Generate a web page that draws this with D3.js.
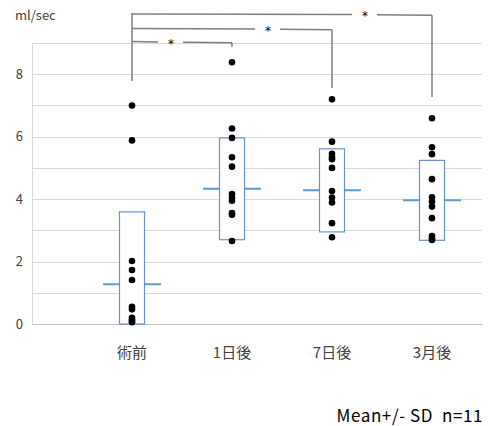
<!DOCTYPE html>
<html><head><meta charset="utf-8">
<script src="https://cdn.jsdelivr.net/npm/d3@7"></script>
<style>body{margin:0;background:#fff}svg{display:block}</style>
</head><body>
<script>
const categories = ["術前", "1日後", "7日後", "3月後"];
const means = [1.27, 4.33, 4.28, 3.96];
const sds = [2.32, 1.63, 1.33, 1.28];
const points = [
  [7.0, 5.88, 2.02, 1.73, 1.41, 0.55, 0.47, 0.2, 0.15, 0.1, 0.06],
  [8.38, 6.26, 5.96, 5.34, 5.04, 4.16, 4.05, 3.95, 3.55, 3.5, 2.66],
  [7.2, 5.84, 5.45, 5.35, 5.28, 5.0, 4.26, 4.05, 3.89, 3.23, 2.78],
  [6.59, 5.66, 5.44, 4.64, 4.06, 3.92, 3.76, 3.39, 2.82, 2.74, 2.69]
];
const yTicks = [0, 2, 4, 6, 8];
const gridValues = [1, 2, 3, 4, 5, 6, 7, 8, 9];
const comparisons = [["術前", "1日後"], ["術前", "7日後"], ["術前", "3月後"]];
const yUnit = "ml/sec";
const footnote = "Mean+/- SD  n=11";

const W = 488, H = 426;
const font = "'Noto Sans CJK JP', 'Noto Sans', sans-serif";
const svg = d3.select("body").append("svg").attr("width", W).attr("height", H);

const x = d3.scalePoint().domain(categories).range([132, 432]);
const y = d3.scaleLinear().domain([0, 9]).range([324, 43]);
const cx = c => x(c);
const plotL = 32, plotR = 482;

// gridlines
svg.append("g").selectAll("line").data(gridValues).join("line")
  .attr("x1", plotL).attr("x2", plotR)
  .attr("y1", d => Math.round(y(d)) + 0.5).attr("y2", d => Math.round(y(d)) + 0.5)
  .attr("stroke", "#d9d9d9").attr("stroke-width", 1);
svg.append("line").attr("x1", plotL + 0.5).attr("x2", plotL + 0.5).attr("y1", y(9)).attr("y2", y(0))
  .attr("stroke", "#d9d9d9");
svg.append("line").attr("x1", plotL).attr("x2", plotR)
  .attr("y1", Math.round(y(0)) + 0.5).attr("y2", Math.round(y(0)) + 0.5)
  .attr("stroke", "#bfbfbf");

// y axis labels
const yAxis = d3.axisLeft(y).tickValues(yTicks).tickSize(0).tickPadding(0);
const ga = svg.append("g").attr("transform", "translate(23,0)").call(yAxis);
ga.select(".domain").remove();
ga.selectAll("text").attr("font-family", font).attr("font-size", 13).attr("fill", "#404040");

svg.append("text").attr("x", 15).attr("y", 20).text(yUnit)
  .attr("font-family", font).attr("font-size", 13).attr("fill", "#404040");

// x labels
svg.append("g").selectAll("text").data(categories).join("text")
  .attr("x", d => cx(d)).attr("y", 358).attr("text-anchor", "middle")
  .attr("font-family", font).attr("font-size", 15).attr("fill", "#404040").text(d => d);

// mean lines
const halfMean = 29, halfBox = 12.5;
svg.append("g").selectAll("line").data(categories).join("line")
  .attr("x1", d => cx(d) - halfMean).attr("x2", d => cx(d) + halfMean)
  .attr("y1", (d, i) => y(means[i])).attr("y2", (d, i) => y(means[i]))
  .attr("stroke", "#5b9bd5").attr("stroke-width", 2);

// SD boxes
svg.append("g").selectAll("rect").data(categories).join("rect")
  .attr("x", d => cx(d) - halfBox).attr("width", halfBox * 2)
  .attr("y", (d, i) => y(means[i] + sds[i]))
  .attr("height", (d, i) => y(Math.max(0, means[i] - sds[i])) - y(means[i] + sds[i]))
  .attr("fill", "#fff").attr("stroke", "#4f81bd").attr("stroke-width", 1.2).attr("stroke-opacity", 0.85);

// points
categories.forEach((c, i) => {
  svg.append("g").selectAll("circle").data(points[i]).join("circle")
    .attr("cx", cx(c)).attr("cy", d => y(d)).attr("r", 3.3).attr("fill", "#000");
});

// significance brackets
const levels = [41.5, 28.5, 14];
const drops = [47, 88, 97];
const bcol = "#7f7f7f";
const left = cx(categories[0]);
svg.append("line").attr("x1", left).attr("x2", left).attr("y1", 13).attr("y2", 81)
  .attr("stroke", bcol).attr("stroke-width", 1.5);
comparisons.forEach((p, i) => {
  const x2 = cx(p[1]);
  const ly = levels[i];
  const starX = left + 39 + i * 97;
  const g = svg.append("g").attr("stroke", bcol).attr("stroke-width", 1.5).attr("fill", "none");
  g.append("line").attr("x1", left).attr("x2", starX - 13).attr("y1", ly).attr("y2", ly + 0.5);
  g.append("line").attr("x1", starX + 12).attr("x2", x2).attr("y1", ly + 0.7).attr("y2", ly + 1.2);
  g.append("line").attr("x1", x2).attr("x2", x2).attr("y1", ly + 1.2).attr("y2", drops[i]);
  svg.append("text").attr("x", starX).attr("y", ly + 6).attr("text-anchor", "middle")
    .attr("font-family", "'DejaVu Sans', sans-serif").attr("font-size", 12).attr("fill", "#000").text("*");
});

// footnote
svg.append("text").attr("x", 483).attr("y", 422).attr("text-anchor", "end")
  .attr("xml:space", "preserve").style("white-space", "pre").attr("letter-spacing", 0.6)
  .attr("font-family", font).attr("font-size", 17).attr("fill", "#000").text(footnote);
</script>
</body></html>
